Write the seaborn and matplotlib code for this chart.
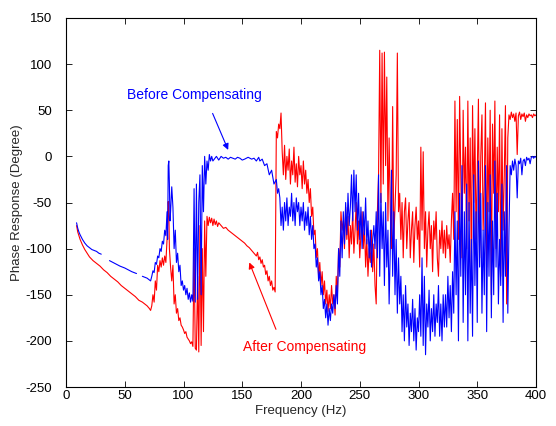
import numpy as np
import pandas as pd
import matplotlib
matplotlib.use("Agg")
import matplotlib.pyplot as plt
import seaborn as sns

# ---------------- data ----------------
# Before compensating (blue); None marks a gap in the trace
before_low = [(9, -72), (10, -78), (11, -82), (12, -85), (14, -90), (16, -94), (18, -97),
              (20, -99), (22, -101), (24, -102), (26, -103), (28, -105), (30, -106), (31, None),
              (37, -113), (40, -115), (43, -117), (46, -119), (50, -121), (53, -123),
              (56, -125), (60, -127), (61, None),
              (65, -130), (67, -131), (69, -132), (71, -134), (72, -135), (73, -130)]
before_rise = [(74, -124), (75, -126), (76, -115), (77, -117), (78, -108), (79, -110), (80, -100),
               (81, -103), (82, -92), (83, -95), (84, -80), (85, -86), (86, -60), (86.5, -90),
               (87, -10), (87.5, -5), (88, -30), (88.5, -70), (89, -60), (90, -33), (91, -55),
               (92, -100), (93, -80), (94, -115), (95, -105), (96, -125), (97, -118), (98, -140),
               (99, -135), (100, -145), (101, -140), (102, -150), (103, -143), (104, -155),
               (105, -148), (106, -158), (107, -150), (108, -157), (109, -35), (110, -158),
               (111, -30), (112, -155), (113, -50), (114, -20), (115, -150), (116, -10),
               (117, -60), (118, 0), (119, -30), (120, -5), (121, -15), (122, 2), (123, -5)]
before_flat = [(124, 0), (125, -5), (128, 0), (130, -4), (132, 0), (134, -2), (136, -1), (138, -3),
               (140, -1), (142, -2), (144, -3), (146, -1), (148, -2), (150, -4), (152, -3),
               (155, -1), (158, -3), (160, -2), (162, -5), (164, -1), (165, -5), (167, -3),
               (169, -10), (171, -8), (173, -20), (175, -15), (177, -30), (179, -25), (180, -40),
               (181, -35), (182, -45)]
before_mid = [(183, -75), (184, -55), (185, -80), (186, -50), (187, -70), (188, -45), (189, -75),
              (190, -55), (191, -65), (192, -40), (193, -70), (194, -50), (195, -75), (196, -45),
              (197, -60), (198, -50), (199, -75), (200, -55), (201, -70), (202, -50), (203, -80),
              (204, -60), (205, -75), (206, -55), (207, -85), (208, -65), (209, -90), (210, -75),
              (211, -100), (212, -95), (213, -120), (214, -110), (215, -135), (216, -125),
              (217, -150), (218, -140), (219, -165), (220, -155), (221, -175), (222, -160),
              (223, -183), (224, -165), (225, -178), (226, -160), (227, -170), (228, -150),
              (229, -165), (230, -140), (231, -160), (232, -100), (233, -130), (234, -70),
              (235, -110), (236, -60), (237, -95), (238, -50), (239, -85), (240, -40), (241, -75),
              (242, -55), (243, -20), (244, -70), (245, -15), (246, -60), (247, -20), (248, -80),
              (249, -40), (250, -90), (251, -55), (252, -100), (253, -60), (254, -85), (255, -45),
              (256, -95), (257, -70), (258, -110), (259, -80), (260, -120), (261, -90), (262, -75),
              (263, -100), (264, -60), (265, -110)]
before_high = [(266, -20), (267, -130), (268, -40), (269, -100), (270, -60), (271, -140), (272, -50),
               (273, -120), (274, -80), (275, -160), (276, -100), (277, -15), (278, -130),
               (279, -60), (280, -150), (281, -90), (282, -170), (283, -110), (284, -160),
               (285, -130), (286, -190), (287, -150), (288, -200), (289, -140), (290, -185),
               (291, -160), (292, -205), (293, -170), (294, -190), (295, -155), (296, -200),
               (297, -165), (298, -210), (299, -175), (300, -190), (301, -150), (302, -195),
               (303, -110), (304, -205), (305, -130), (306, -215), (307, -160), (308, -185),
               (309, -145), (310, -200), (311, -165), (312, -190), (313, -150), (314, -195),
               (315, -160), (316, -180), (317, -140), (318, -195), (319, -160), (320, -200),
               (321, -150), (322, -185), (323, -150), (324, -185), (325, -130), (326, -175),
               (327, -140), (328, -190), (329, -125), (330, -170), (331, -60), (332, -150),
               (333, -70), (334, -200), (335, -40), (336, -130), (337, -10), (338, -180),
               (339, -60), (340, -150), (341, -30), (342, -200), (343, -50), (344, -170),
               (345, -90), (346, -195), (347, -20), (348, -140), (349, -60), (350, -180),
               (351, -5), (352, -120), (353, -40), (354, -170), (355, -80), (356, -150),
               (357, -10), (358, -190), (359, -50), (360, -130), (361, -20), (362, -175),
               (363, -70), (364, -150), (365, -5), (366, -120), (367, -40), (368, -160),
               (369, -90), (370, -140), (371, -30), (372, -180), (373, -60), (374, -130),
               (375, -10), (376, -170), (377, -80)]
before_tail = [(378, -10), (379, -20), (380, -5), (381, -15), (382, -3), (383, -10), (384, -45),
               (385, -5), (386, -8), (387, -2), (388, -20), (389, -5), (390, -3), (391, -10),
               (392, -1), (393, -4), (394, -2), (395, -8), (396, -1), (397, 0), (398, -2),
               (399, 0), (400, -1)]

# After compensating (red)
after_low = [(9, -75), (10, -82), (12, -90), (14, -96), (16, -101), (18, -105), (20, -109),
             (23, -113), (26, -116), (29, -119), (32, -123), (35, -126), (38, -130), (41, -133),
             (44, -136), (47, -140), (50, -143), (53, -146), (56, -149), (59, -152), (62, -156),
             (65, -158), (67, -160), (69, -162), (71, -165), (72, -167), (73, -162)]
after_rise = [(74, -150), (75, -158), (76, -135), (77, -145), (78, -118), (79, -125), (80, -113),
              (81, -120), (82, -110), (83, -118), (84, -108), (85, -115), (86, -90), (87, -49),
              (87.5, -60), (88, -100), (89, -120), (90, -135), (91, -118), (92, -160), (93, -150),
              (94, -170), (95, -165), (96, -178), (97, -175), (98, -183), (99, -185), (100, -188),
              (101, -192), (102, -190), (103, -196), (104, -198), (105, -200), (106, -203),
              (107, -201), (108, -206), (109, -100), (110, -208), (111, -210), (112, -130),
              (113, -212), (114, -75), (115, -205), (116, -100), (117, -190), (118, -70),
              (119, -130), (120, -65)]
after_slope = [(121, -75), (122, -66), (123, -72), (124, -67), (125, -75), (126, -68), (127, -74),
               (128, -70), (129, -76), (130, -72), (132, -75), (134, -78), (136, -77), (138, -80),
               (140, -82), (142, -84), (144, -86), (146, -88), (148, -90), (150, -92), (152, -94),
               (154, -97), (156, -99), (158, -102), (160, -105), (162, -108), (163, -104),
               (164, -112), (165, -109), (166, -116), (167, -112), (168, -120), (169, -118),
               (170, -128), (171, -124), (172, -135), (173, -130), (174, -140), (175, -135),
               (176, -145), (177, -142), (178, -147)]
after_mid = [(179, 27), (180, 20), (181, 35), (182, 30), (183, 47), (184, 5), (185, -20), (186, 12),
             (187, -25), (188, 0), (189, -15), (190, 8), (191, -30), (192, -5), (193, -20),
             (194, 10), (195, -28), (196, -8), (197, -33), (198, 0), (199, -20), (200, -10),
             (201, -35), (202, -5), (203, -30), (204, -15), (205, -40), (206, -25), (207, -50),
             (208, -35), (209, -65), (210, -55), (211, -85), (212, -80), (213, -110), (214, -100),
             (215, -130), (216, -115), (217, -140), (218, -125), (219, -150), (220, -135),
             (221, -160), (222, -145), (223, -168), (224, -150), (225, -165), (226, -140),
             (227, -160), (228, -150), (229, -172), (230, -130), (231, -150), (232, -100),
             (233, -120), (234, -60), (235, -80), (236, -70), (237, -100), (238, -55), (239, -90),
             (240, -65), (241, -110), (242, -75), (243, -95), (244, -60), (245, -105), (246, -80),
             (247, -50), (248, -95), (249, -70), (250, -110), (251, -85), (252, -60), (253, -100),
             (254, -75), (255, -120), (256, -90), (257, -130), (258, -100), (259, -115),
             (260, -80), (261, -125), (262, -95), (263, -140), (264, -160), (265, -60), (266, -20)]
after_high = [(267, 115), (268, -50), (269, 112), (270, -30), (271, 113), (272, -10), (273, 86),
              (274, -70), (275, 20), (276, -60), (277, -100), (278, 54), (279, -90), (280, -55),
              (281, -20), (282, 112), (283, -60), (284, -40), (285, -90), (286, -50), (287, -110),
              (288, -60), (289, -45), (290, -100), (291, -70), (292, -50), (293, -110), (294, -80),
              (295, -60), (296, -115), (297, -75), (298, -55), (299, -90), (300, -70), (301, -120),
              (302, 10), (303, -80), (304, 5), (305, -100), (306, -60), (307, -120), (308, -80),
              (309, -60), (310, -100), (311, -75), (312, -125), (313, -70), (314, -90), (315, -60),
              (316, -110), (317, -130), (318, -80), (319, -100), (320, -70), (321, -105),
              (322, -80), (323, -110), (324, -75), (325, -100), (326, -85), (327, -115),
              (328, -70), (329, -40), (330, -90), (331, 60), (332, -60), (333, 40), (334, -90),
              (335, 65), (336, -20), (337, -110), (338, 50), (339, -40), (340, 10), (341, -100),
              (342, 60), (343, -70), (344, 20), (345, -130), (346, 55), (347, -50), (348, 30),
              (349, -90), (350, -20), (351, 62), (352, -110), (353, 0), (354, 45), (355, -80),
              (356, -30), (357, 58), (358, -120), (359, 20), (360, -60), (361, 50), (362, -150),
              (363, 35), (364, -40), (365, 60), (366, -100), (367, 10), (368, -60), (369, 45),
              (370, -130), (371, 30), (372, -80), (373, -20), (374, 55), (375, -160), (376, 20),
              (377, 45)]
after_tail = [(378, 40), (379, 48), (380, 42), (381, 46), (382, 38), (383, 47), (384, 2), (385, 44),
              (386, 48), (387, 40), (388, 46), (389, 43), (390, 47), (391, 38), (392, 45),
              (393, 42), (394, 46), (395, 44), (396, 45), (397, 42), (398, 46), (399, 44), (400, 45)]

x_ticks = [0, 50, 100, 150, 200, 250, 300, 350, 400]
y_ticks = [-250, -200, -150, -100, -50, 0, 50, 100, 150]
label_before = "Before Compensating"
label_after = "After Compensating"


def to_frame(parts):
    rows = [p for part in parts for p in part]
    df = pd.DataFrame(rows, columns=["freq", "phase"])
    gap = df["phase"].isna()
    df["seg"] = gap.cumsum()
    return df[~gap].astype({"phase": float})


before_df = to_frame([before_low, before_rise, before_flat, before_mid, before_high, before_tail])
after_df = to_frame([after_low, after_rise, after_slope, after_mid, after_high, after_tail])

# ---------------- drawing ----------------
sns.set_theme(style="white")
plt.rcParams["font.family"] = ["Liberation Sans", "DejaVu Sans"]
plt.rcParams["axes.unicode_minus"] = False

fig = plt.figure(figsize=(5.56, 4.26), dpi=100)
ax = fig.add_axes([66 / 556, 1 - 387 / 426, 470 / 556, 369 / 426])

sns.lineplot(data=after_df, x="freq", y="phase", units="seg", estimator=None, sort=False,
             color=(1, 0, 0), linewidth=0.8, ax=ax)
sns.lineplot(data=before_df, x="freq", y="phase", units="seg", estimator=None, sort=False,
             color=(0, 0, 1), linewidth=0.8, ax=ax)

ax.set_xlim(0, 400)
ax.set_ylim(-250, 150)
ax.set_xticks(x_ticks)
ax.set_yticks(y_ticks)
ax.tick_params(direction="in", length=4, width=0.6, labelsize=9.5, colors="black",
               top=True, right=True, bottom=True, left=True)
ax.tick_params(axis="x", pad=2)
ax.tick_params(axis="y", pad=10)
for s in ax.spines.values():
    s.set_visible(True)
    s.set_color("black")
    s.set_linewidth(0.8)
ax.set_xlabel("Frequency (Hz)", fontsize=9.5)
ax.set_ylabel("Phase Response (Degree)", fontsize=9.5)
ax.xaxis.set_label_coords(0.5, -0.05)
ax.yaxis.set_label_coords(-0.092, 0.5)
ax.grid(False)

ax.annotate(label_before, xy=(138, 7), xytext=(52, 66), color=(0, 0, 1), fontsize=10,
            va="center", ha="left",
            arrowprops=dict(arrowstyle="-|>", color=(0, 0, 1), lw=0.8, mutation_scale=9,
                            shrinkA=6, shrinkB=0, relpos=(0.6, 0.0)))
ax.annotate(label_after, xy=(156, -115), xytext=(151, -207), color=(1, 0, 0), fontsize=10,
            va="center", ha="left",
            arrowprops=dict(arrowstyle="-|>", color=(1, 0, 0), lw=0.8, mutation_scale=9,
                            shrinkA=6, shrinkB=0, relpos=(0.3, 1.0)))

fig.savefig("out.png", dpi=100, facecolor="white")
